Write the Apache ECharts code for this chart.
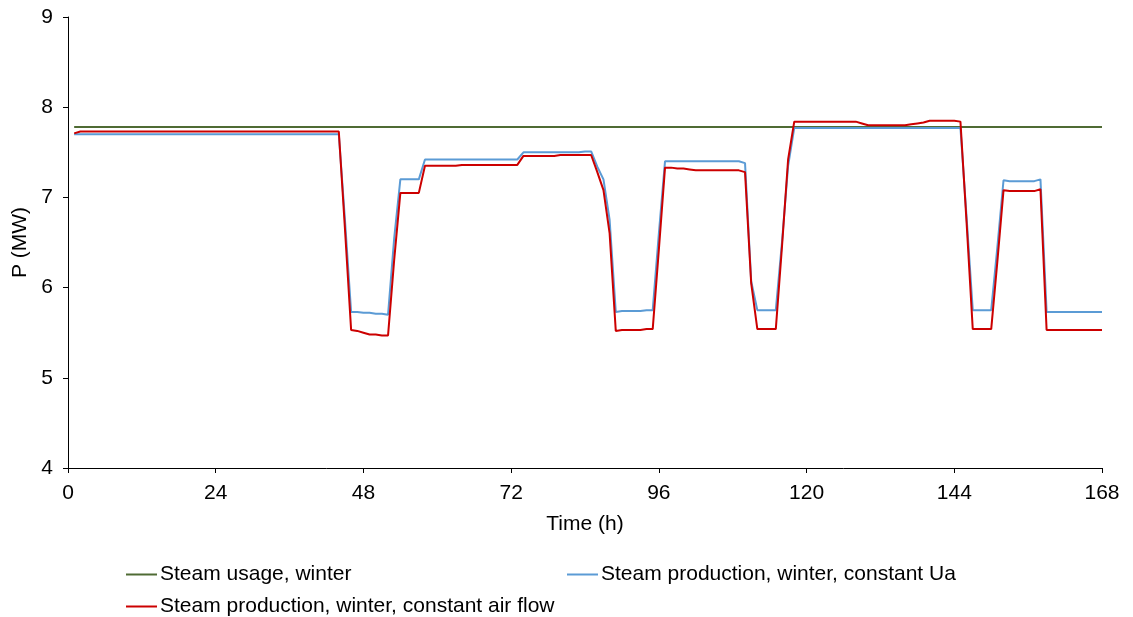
<!DOCTYPE html>
<html>
<head>
<meta charset="utf-8">
<script src="https://cdn.jsdelivr.net/npm/echarts@6/dist/echarts.min.js"></script>
<style>
  html, body { margin: 0; padding: 0; background: #ffffff; }
  #chart { width: 1133px; height: 617px; }
</style>
</head>
<body>
<div id="chart"></div>
<script>
// Hourly values over one week (hour 1 .. 168), MW
const xTicks = [0, 24, 48, 72, 96, 120, 144, 168];
const yTicks = [4, 5, 6, 7, 8, 9];

const seriesNames = [
  'Steam usage, winter',
  'Steam production, winter, constant Ua',
  'Steam production, winter, constant air flow'
];

const steamUsage = [
  7.78,7.78,7.78,7.78,7.78,7.78,7.78,7.78,7.78,7.78,7.78,7.78,
  7.78,7.78,7.78,7.78,7.78,7.78,7.78,7.78,7.78,7.78,7.78,7.78,
  7.78,7.78,7.78,7.78,7.78,7.78,7.78,7.78,7.78,7.78,7.78,7.78,
  7.78,7.78,7.78,7.78,7.78,7.78,7.78,7.78,7.78,7.78,7.78,7.78,
  7.78,7.78,7.78,7.78,7.78,7.78,7.78,7.78,7.78,7.78,7.78,7.78,
  7.78,7.78,7.78,7.78,7.78,7.78,7.78,7.78,7.78,7.78,7.78,7.78,
  7.78,7.78,7.78,7.78,7.78,7.78,7.78,7.78,7.78,7.78,7.78,7.78,
  7.78,7.78,7.78,7.78,7.78,7.78,7.78,7.78,7.78,7.78,7.78,7.78,
  7.78,7.78,7.78,7.78,7.78,7.78,7.78,7.78,7.78,7.78,7.78,7.78,
  7.78,7.78,7.78,7.78,7.78,7.78,7.78,7.78,7.78,7.78,7.78,7.78,
  7.78,7.78,7.78,7.78,7.78,7.78,7.78,7.78,7.78,7.78,7.78,7.78,
  7.78,7.78,7.78,7.78,7.78,7.78,7.78,7.78,7.78,7.78,7.78,7.78,
  7.78,7.78,7.78,7.78,7.78,7.78,7.78,7.78,7.78,7.78,7.78,7.78,
  7.78,7.78,7.78,7.78,7.78,7.78,7.78,7.78,7.78,7.78,7.78,7.78
];

const prodConstUa = [
  7.70,7.70,7.70,7.70,7.70,7.70,7.70,7.70,7.70,7.70,7.70,7.70,
  7.70,7.70,7.70,7.70,7.70,7.70,7.70,7.70,7.70,7.70,7.70,7.70,
  7.70,7.70,7.70,7.70,7.70,7.70,7.70,7.70,7.70,7.70,7.70,7.70,
  7.70,7.70,7.70,7.70,7.70,7.70,7.70,7.70,6.75,5.73,5.73,5.72,
  5.72,5.71,5.71,5.70,6.55,7.20,7.20,7.20,7.20,7.42,7.42,7.42,
  7.42,7.42,7.42,7.42,7.42,7.42,7.42,7.42,7.42,7.42,7.42,7.42,
  7.42,7.50,7.50,7.50,7.50,7.50,7.50,7.50,7.50,7.50,7.50,7.51,
  7.51,7.34,7.20,6.75,5.73,5.74,5.74,5.74,5.74,5.75,5.75,6.60,
  7.40,7.40,7.40,7.40,7.40,7.40,7.40,7.40,7.40,7.40,7.40,7.40,
  7.40,7.38,6.07,5.75,5.75,5.75,5.75,6.50,7.35,7.77,7.77,7.77,
  7.77,7.77,7.77,7.77,7.77,7.77,7.77,7.77,7.77,7.77,7.77,7.77,
  7.77,7.77,7.77,7.77,7.77,7.77,7.77,7.77,7.77,7.77,7.77,7.77,
  7.77,6.78,5.75,5.75,5.75,5.75,6.45,7.19,7.18,7.18,7.18,7.18,
  7.18,7.20,5.73,5.73,5.73,5.73,5.73,5.73,5.73,5.73,5.73,5.73
];

const prodConstAir = [
  7.71,7.73,7.73,7.73,7.73,7.73,7.73,7.73,7.73,7.73,7.73,7.73,
  7.73,7.73,7.73,7.73,7.73,7.73,7.73,7.73,7.73,7.73,7.73,7.73,
  7.73,7.73,7.73,7.73,7.73,7.73,7.73,7.73,7.73,7.73,7.73,7.73,
  7.73,7.73,7.73,7.73,7.73,7.73,7.73,7.73,6.65,5.53,5.52,5.50,
  5.48,5.48,5.47,5.47,6.31,7.05,7.05,7.05,7.05,7.35,7.35,7.35,
  7.35,7.35,7.35,7.36,7.36,7.36,7.36,7.36,7.36,7.36,7.36,7.36,
  7.36,7.46,7.46,7.46,7.46,7.46,7.46,7.47,7.47,7.47,7.47,7.47,
  7.47,7.28,7.08,6.60,5.52,5.53,5.53,5.53,5.53,5.54,5.54,6.42,
  7.33,7.33,7.32,7.32,7.31,7.30,7.30,7.30,7.30,7.30,7.30,7.30,
  7.30,7.28,6.05,5.54,5.54,5.54,5.54,6.45,7.42,7.84,7.84,7.84,
  7.84,7.84,7.84,7.84,7.84,7.84,7.84,7.84,7.82,7.80,7.80,7.80,
  7.80,7.80,7.80,7.80,7.81,7.82,7.83,7.85,7.85,7.85,7.85,7.85,
  7.84,6.72,5.54,5.54,5.54,5.54,6.29,7.08,7.07,7.07,7.07,7.07,
  7.07,7.09,5.53,5.53,5.53,5.53,5.53,5.53,5.53,5.53,5.53,5.53
];

const colors = ['#4f6b34', '#5b9bd5', '#cc0000'];
const FONT = '"Liberation Sans", Arial, sans-serif';

// pair each hourly value with its hour (first value is hour 1)
function toPoints(values) {
  return values.map((v, i) => [i + 1, v]);
}

const chart = echarts.init(document.getElementById('chart'), null, { renderer: 'canvas' });

const legendBase = {
  icon: 'rect',
  itemWidth: 31,
  itemHeight: 2,
  itemGap: 0,
  padding: 0,
  textStyle: { fontFamily: FONT, fontSize: 21, color: '#000000', padding: [0, 0, 0, -2] },
  selectedMode: false
};

chart.setOption({
  animation: false,
  color: colors,
  textStyle: { fontFamily: FONT },
  grid: { left: 68, right: 31, top: 17, bottom: 149, containLabel: false },
  legend: [
    Object.assign({}, legendBase, { data: [seriesNames[0]], left: 126, top: 564 }),
    Object.assign({}, legendBase, { data: [seriesNames[1]], left: 567, top: 564 }),
    Object.assign({}, legendBase, { data: [seriesNames[2]], left: 126, top: 596 })
  ],
  xAxis: {
    type: 'value',
    min: xTicks[0],
    max: xTicks[xTicks.length - 1],
    interval: 24,
    name: 'Time (h)',
    nameLocation: 'middle',
    nameGap: 46,
    nameTextStyle: { fontFamily: FONT, fontSize: 21, color: '#000000' },
    axisLine: { show: true, lineStyle: { color: '#000000', width: 1 } },
    axisTick: { show: true, length: 5, inside: false, lineStyle: { color: '#000000' } },
    axisLabel: { fontFamily: FONT, fontSize: 21, color: '#000000', margin: 15 },
    splitLine: { show: false }
  },
  yAxis: {
    type: 'value',
    min: yTicks[0],
    max: yTicks[yTicks.length - 1],
    interval: 1,
    name: 'P (MW)',
    nameLocation: 'middle',
    nameGap: 34,
    nameRotate: 90,
    nameTextStyle: { fontFamily: FONT, fontSize: 21, color: '#000000' },
    axisLine: { show: true, lineStyle: { color: '#000000', width: 1 } },
    axisTick: { show: true, length: 5, inside: false, lineStyle: { color: '#000000' } },
    axisLabel: { fontFamily: FONT, fontSize: 21, color: '#000000', margin: 15 },
    splitLine: { show: false }
  },
  series: [
    { name: seriesNames[0], data: toPoints(steamUsage) },
    { name: seriesNames[1], data: toPoints(prodConstUa) },
    { name: seriesNames[2], data: toPoints(prodConstAir) }
  ].map((s, i) => ({
    name: s.name,
    type: 'line',
    data: s.data,
    showSymbol: false,
    symbol: 'none',
    lineStyle: { width: 2, color: colors[i] },
    itemStyle: { color: colors[i] },
    z: 2 + i
  }))
});
</script>
</body>
</html>
